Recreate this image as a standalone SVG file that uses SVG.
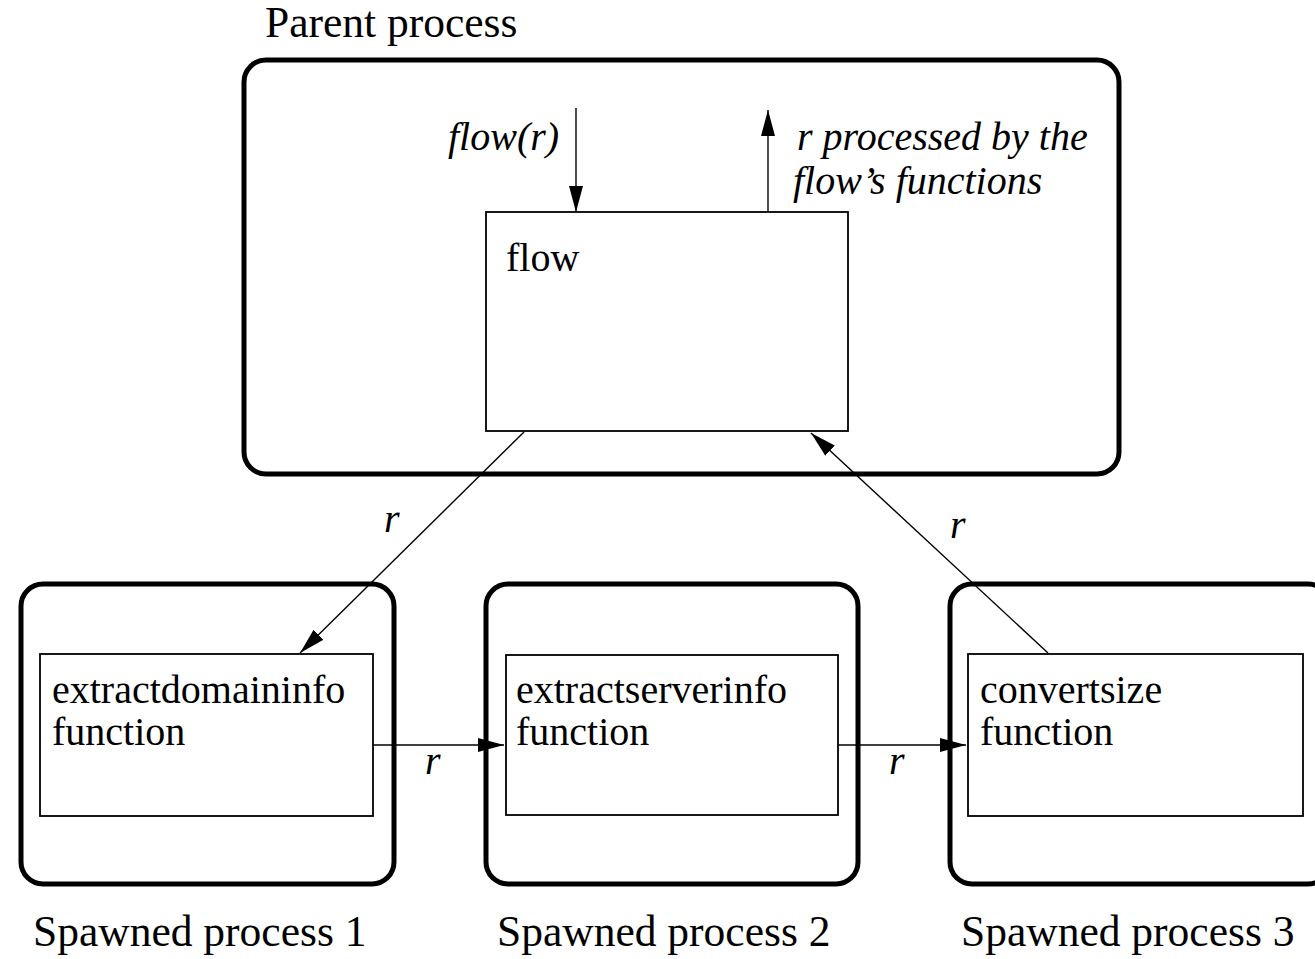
<svg xmlns="http://www.w3.org/2000/svg" width="1315" height="959" viewBox="0 0 1315 959">
  <style>
    .proc { fill: none; stroke: #000; stroke-width: 5; }
    .box { fill: #fff; stroke: #000; stroke-width: 1.8; }
    .wire { fill: none; stroke: #000; stroke-width: 1.4; }
    .t { font-family: "Liberation Serif", "Times New Roman", serif; font-size: 40px; fill: #000; }
    .big { font-size: 43.5px; }
    .it { font-style: italic; }
  </style>
  <defs>
    <marker id="arrow" viewBox="0 0 26 14" refX="26" refY="7" markerWidth="26" markerHeight="14" markerUnits="userSpaceOnUse" orient="auto">
      <path d="M0,0 L26,7 L0,14 Z" fill="#000"/>
    </marker>
  </defs>

  <rect width="1315" height="959" fill="#fff"/>

  <!-- parent process -->
  <g id="parent">
    <text class="t big" x="265" y="37">Parent process</text>
    <rect class="proc" x="244" y="60" width="875" height="414" rx="22"/>
  </g>

  <g id="flow">
    <rect class="box" x="486" y="212" width="362" height="219"/>
    <text class="t" x="506" y="271">flow</text>
  </g>

  <!-- spawned processes -->
  <g id="spawned1">
    <rect class="proc" x="21" y="584" width="373" height="300" rx="22"/>
    <rect class="box" x="40" y="654" width="333" height="162"/>
    <text class="t" x="52" y="703">extractdomaininfo</text>
    <text class="t" x="52" y="745">function</text>
    <text class="t big" x="33" y="946">Spawned process 1</text>
  </g>

  <g id="spawned2">
    <rect class="proc" x="486" y="584" width="372" height="300" rx="22"/>
    <rect class="box" x="506" y="655" width="332" height="160"/>
    <text class="t" x="516" y="703">extractserverinfo</text>
    <text class="t" x="516" y="745">function</text>
    <text class="t big" x="497" y="946">Spawned process 2</text>
  </g>

  <g id="spawned3">
    <rect class="proc" x="950" y="584" width="380" height="300" rx="22"/>
    <rect class="box" x="968" y="654" width="335" height="162"/>
    <text class="t" x="980" y="703">convertsize</text>
    <text class="t" x="980" y="745">function</text>
    <text class="t big" x="961" y="946">Spawned process 3</text>
  </g>

  <!-- connectors -->
  <g id="connectors">
    <line class="wire" x1="576" y1="108" x2="576" y2="212" marker-end="url(#arrow)"/>
    <line class="wire" x1="768" y1="212" x2="768" y2="110" marker-end="url(#arrow)"/>
    <line class="wire" x1="524" y1="432" x2="300" y2="653" marker-end="url(#arrow)"/>
    <line class="wire" x1="1048" y1="653" x2="811" y2="433" marker-end="url(#arrow)"/>
    <line class="wire" x1="373" y1="745" x2="504" y2="745" marker-end="url(#arrow)"/>
    <line class="wire" x1="838" y1="745" x2="966" y2="745" marker-end="url(#arrow)"/>

    <text class="t it" x="448" y="150">flow(r)</text>
    <text class="t it" x="797" y="150">r processed by the</text>
    <text class="t it" x="793" y="194">flow’s functions</text>
    <text class="t it" x="384" y="532">r</text>
    <text class="t it" x="950" y="538">r</text>
    <text class="t it" x="425" y="774">r</text>
    <text class="t it" x="889" y="774">r</text>
  </g>
</svg>
